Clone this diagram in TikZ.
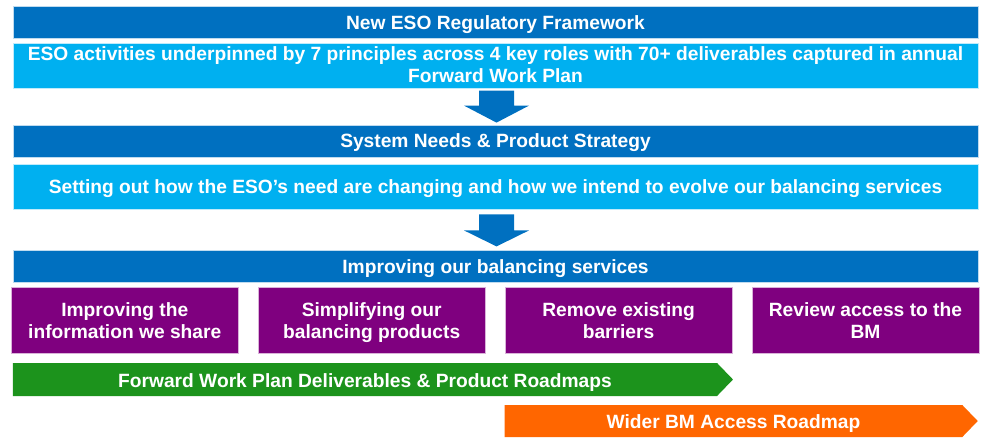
\documentclass[tikz,border=0pt]{standalone}
\usepackage{fontspec}
\setmainfont{Liberation Sans}
\usetikzlibrary{positioning,calc,shapes.symbols}
\definecolor{darkblue}{HTML}{0070C0}
\definecolor{skyblue}{HTML}{00B0F0}
\definecolor{plum}{HTML}{7F007F}
\definecolor{leaf}{HTML}{1C931C}
\definecolor{tangerine}{HTML}{FF6600}

\begin{document}
\begin{tikzpicture}[x=1pt,y=-1pt,font=\bfseries\fontsize{19.2}{22}\selectfont]
\tikzset{bar/.style={fill=darkblue,draw=white!75!darkblue,text=white,minimum width=965pt,minimum height=32pt,inner sep=0pt,align=center,text height=14pt,text depth=0pt},
  band/.style={bar,fill=skyblue,draw=white!75!skyblue,minimum height=45pt},
  lever/.style={fill=plum,draw=white!70!plum,text=white,minimum width=227.5pt,minimum height=66pt,inner sep=0pt,align=center,text height=36pt,text depth=0pt},
  roadmap/.style={signal,signal to=east,text=white,minimum height=33pt,inner sep=0pt,signal pointer angle=92,text height=15pt,text depth=0pt},
  blockarrow/.style={fill=darkblue}}
\useasboundingbox (0,0) rectangle (981,437);

% framework and strategy stack
\node[bar] (frame) at (495.5,22) {New ESO Regulatory Framework};
\node[band,below=5pt of frame,text height=33pt] (eso) {ESO activities underpinned by 7 principles across 4 key roles with 70+ deliverables captured in annual\\Forward Work Plan};
\node[bar,below=36pt of eso] (needs) {System Needs \& Product Strategy};
\node[band,below=7pt of needs] (setting) {Setting out how the ESO's need are changing and how we intend to evolve our balancing services};
\node[bar,below=41pt of setting] (improve) {Improving our balancing services};

% the four areas of work
\node[lever] (info) at (124.75,320) {Improving the\\information we share};
\node[lever,right=19pt of info] (simplify) {Simplifying our\\balancing products};
\node[lever,right=19pt of simplify] (barriers) {Remove existing\\barriers};
\node[lever,right=19pt of barriers] (access) {Review access to the\\BM};

% roadmaps
\node[roadmap,fill=leaf,minimum width=720pt] (fwp) at (365,379.5) {Forward Work Plan Deliverables \& Product Roadmaps};
\node[roadmap,fill=tangerine,minimum width=473pt,minimum height=32pt] (wider) at (733.5,421) {Wider BM Access Roadmap};

% block arrows between the stages
\fill[blockarrow] ($(eso.south)+(-16.5,2)$) -- ++(35,0) -- ++(0,15) -- ++(15,0)
  -- ($(needs.north)+(1,-2)$) -- ($(eso.south)+(-31.5,17)$) -- ++(15,0) -- cycle;
\fill[blockarrow] ($(setting.south)+(-16.5,5)$) -- ++(35,0) -- ++(0,16) -- ++(15,0)
  -- ($(improve.north)+(1,-4)$) -- ($(setting.south)+(-31.5,21)$) -- ++(15,0) -- cycle;
\end{tikzpicture}
\end{document}
